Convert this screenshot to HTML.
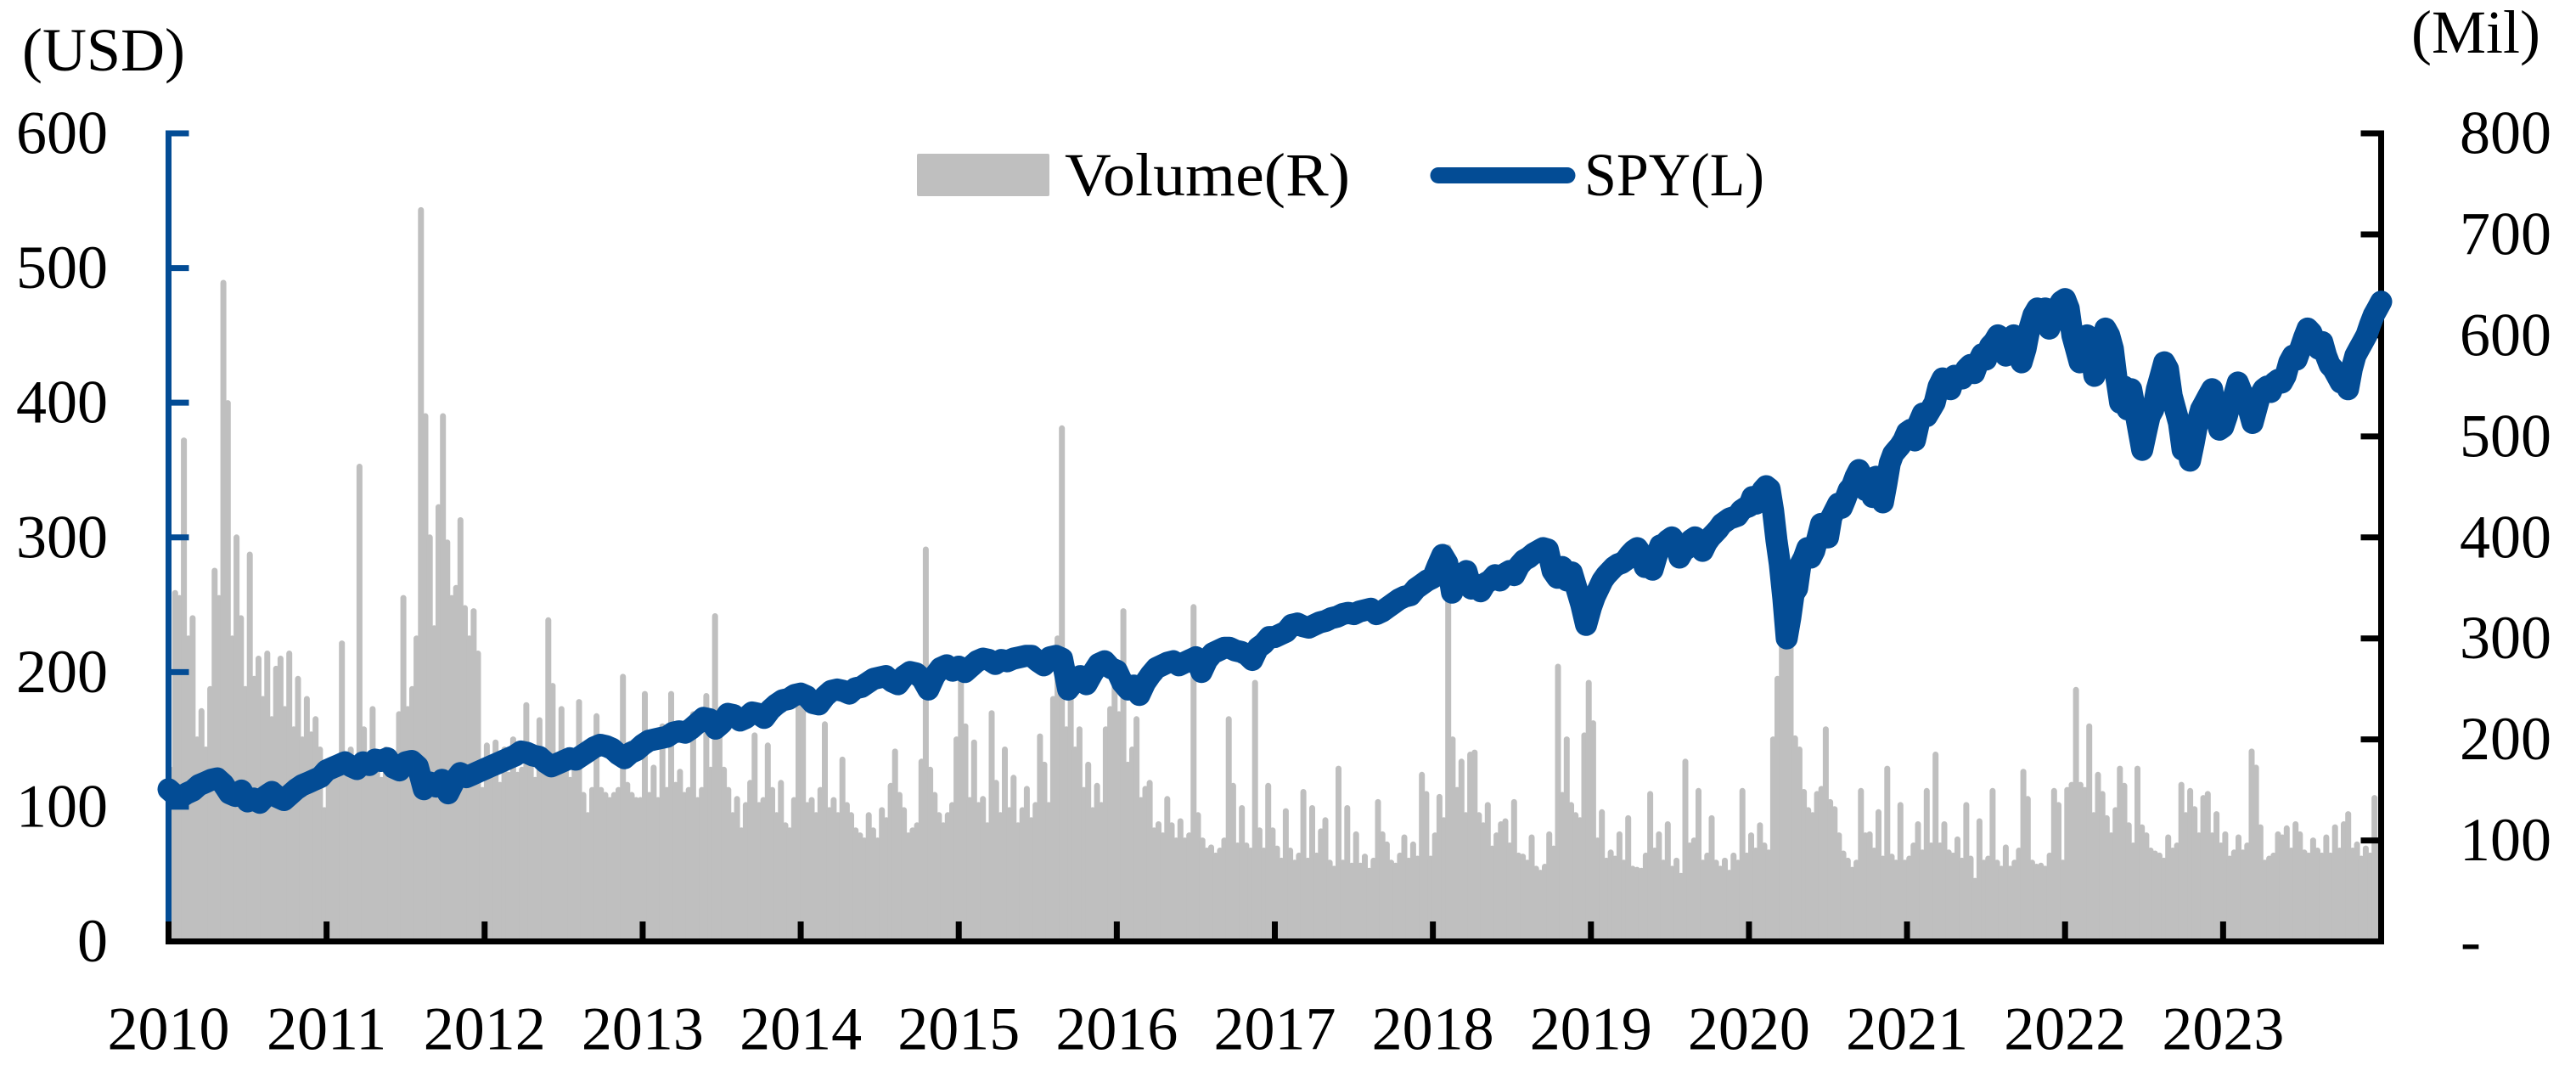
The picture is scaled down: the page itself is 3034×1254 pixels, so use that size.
<!DOCTYPE html>
<html lang="en">
<head>
<meta charset="utf-8">
<title>SPY price and volume, 2010-2023</title>
<style>
  html, body { margin: 0; padding: 0; background: #fff; }
  svg { display: block; }
  text { font-family: "Liberation Serif", serif; font-size: 72px; fill: #000; }
</style>
</head>
<body>
<svg id="chart" xmlns="http://www.w3.org/2000/svg" width="3034" height="1254" viewBox="0 0 3034 1254">
  <rect x="0" y="0" width="3034" height="1254" fill="#fff"/>
  <g id="volume-layer"></g>
  <g id="axis-layer"></g>
  <g id="line-layer"></g>
  <text x="26" y="83">(USD)</text>
  <text x="2840" y="62">(Mil)</text>
  <g>
    <rect x="1080" y="181" width="156" height="50" rx="2" fill="#BFBFBF"/>
    <text x="1254" y="230" textLength="336" lengthAdjust="spacingAndGlyphs">Volume(R)</text>
    <line x1="1694" y1="206.5" x2="1846" y2="206.5" stroke="#034C95" stroke-width="19" stroke-linecap="round"/>
    <text x="1866" y="230" textLength="212" lengthAdjust="spacingAndGlyphs">SPY(L)</text>
  </g>
</svg>
<script>
// Categories and tick labels
const years = [2010, 2011, 2012, 2013, 2014, 2015, 2016, 2017, 2018, 2019, 2020, 2021, 2022, 2023];
const leftTicks = [0, 100, 200, 300, 400, 500, 600];
const rightTicks = [0, 100, 200, 300, 400, 500, 600, 700, 800];
const rightTickLabels = ["-", "100", "200", "300", "400", "500", "600", "700", "800"];

// SPY price (USD, left axis)
const spy2010 = [113,109,107,110,112,116,118,120,121,117,110,108,112,104,106,103,108,111,107,105,109,113,116,118,120,122];
const spy2011 = [127,129,131,133,130,128,133,131,135,134,136,129,127,133,134,130,113,118,115,120,110,119,125,122,124,126];
const spy2012 = [128,130,132,134,136,138,141,140,138,137,133,130,132,134,136,135,138,141,144,146,145,143,139,136,140,142];
const spy2013 = [146,149,150,151,152,155,156,155,158,162,166,165,158,162,169,168,164,166,170,169,166,172,176,179,180,183];
const spy2014 = [184,182,177,176,182,186,187,186,184,188,189,192,195,196,197,193,191,197,200,199,195,187,197,203,205,201];
const spy2015 = [204,200,204,208,210,209,206,209,208,210,211,212,212,208,205,211,212,210,187,193,197,191,199,206,208,203];
const spy2016 = [201,192,187,190,183,192,198,203,205,207,208,205,207,209,211,200,209,214,216,218,218,216,215,213,209,218,221,226];
const spy2017 = [226,228,230,235,236,234,233,235,237,238,240,241,243,244,243,245,246,247,243,245,248,251,254,256,257,262,265,268];
const spy2018 = [270,279,287,281,259,268,272,275,262,265,260,266,268,272,268,273,275,272,279,283,285,288,290,292,291,275,270,278,268,274,262,250,235];
const spy2019 = [248,256,262,268,272,275,278,280,281,283,287,290,292,288,278,283,276,286,294,295,298,300,296,285,290,292,298,300,297,290,296,300,303,306,310,312,314,315,316,320,322];
const spy2020 = [323,330,325,330,335,338,336,320,298,280,255,225,240,258,262,280,285,292,285,290,300,310,306,300,315,320,325,322,328,335,338,345,350,345,335,340,330,345,335,326,340,355,362,365,368,372];
const spy2021 = [378,380,372,385,392,390,395,400,412,418,415,410,420,420,418,425,428,422,430,436,432,442,445,450,448,435,443,450,445,430,440,455,465,470,465,470,455,462,470,475];
const spy2022 = [477,470,450,440,430,448,450,440,420,428,440,455,450,440,418,400,412,395,410,395,380,365,378,390,395,410,420,430,425,405,395,385,365,375,357,370,385,395,400,405,410,390,380];
const spy2023 = [382,390,400,405,415,408,400,395,385,395,405,410,412,408,415,417,415,420,430,435,432,440,448,455,452,445,440,445,435,428,425,420,415,420,410,425,435,440,445,450,458,465,470,475];

// Trading volume (millions of shares, right axis)
const vol2010 = [170,345,340,496,300,320,200,228,190,250,367,340,652,533,300,400,320,250,383,260,280,240,285,220,270,280,230,285,210,260,200,240,205,220,190,130];
const vol2011 = [165,175,170,295,165,190,175,470,210,175,230,180,160,190,170,175,225,340,230,250,300,724,520,400,310,430,520,395,340,350,417,330,300,327,285,150];
const vol2012 = [194,160,197,155,190,165,200,165,170,234,175,160,219,180,318,253,180,230,170,160,170,237,145,125,150,223,150,145,140,145,150,262,155,145,140,140];
const vol2013 = [245,145,172,140,213,150,245,155,168,145,150,225,140,150,243,170,322,220,170,150,125,141,110,135,157,204,135,140,194,150,125,157,115,110,140,250];
const vol2014 = [233,135,140,125,150,215,130,140,125,180,135,125,110,105,100,125,110,100,130,120,154,188,145,130,105,110,115,178,388,170,145,125,115,125,135,200];
const vol2015 = [262,213,140,197,135,141,115,226,157,125,190,130,162,115,130,151,120,135,203,175,135,240,300,508,210,275,190,210,150,175,130,154,135,210,230,270];
const vol2016 = [225,327,175,190,220,140,151,157,110,116,105,141,115,100,119,100,105,331,125,100,90,93,85,90,100,220,154,95,132,95,90,256,110,90,154,110];
const vol2017 = [92,80,129,90,78,85,148,80,132,85,109,120,78,72,171,78,132,75,106,75,84,70,80,138,106,96,78,75,85,103,80,96,82,165,146,82];
const vol2018 = [105,143,120,390,200,150,178,125,185,187,125,115,135,92,105,116,119,95,138,85,84,78,103,72,68,74,106,92,272,145,200,135,125,120,204,256];
const vol2019 = [216,100,128,80,88,82,106,78,122,72,71,70,85,146,90,106,78,116,72,80,65,178,95,100,149,78,85,122,78,72,80,68,85,78,149,85];
const vol2020 = [105,90,115,95,88,200,260,395,350,300,201,190,148,130,125,146,151,210,138,131,105,87,80,71,78,149,105,106,90,128,82,171,84,78,135,78];
const vol2021 = [82,95,116,88,149,95,185,95,116,88,85,101,80,135,82,60,119,78,82,149,78,72,93,72,78,90,168,141,78,74,75,72,85,149,135,78];
const vol2022 = [150,155,249,155,150,213,125,165,146,122,105,130,171,154,115,95,171,113,105,90,87,85,80,103,90,95,155,125,149,131,105,142,146,105,126,95];
const vol2023 = [106,82,88,103,88,95,188,172,113,78,82,85,106,103,112,90,116,106,88,85,100,90,85,103,85,113,90,116,126,90,96,82,92,85,142,100];

const spySeries = [spy2010, spy2011, spy2012, spy2013, spy2014, spy2015, spy2016, spy2017, spy2018, spy2019, spy2020, spy2021, spy2022, spy2023];
const volumeSeries = [vol2010, vol2011, vol2012, vol2013, vol2014, vol2015, vol2016, vol2017, vol2018, vol2019, vol2020, vol2021, vol2022, vol2023];

const plotLeft = 198.5, plotRight = 2804.5, plotTop = 157, plotBottom = 1108.5;
const leftMax = 600, rightMax = 800;
const BLUE = "#034C95", GRAY = "#BFBFBF", BLACK = "#000";
const NS = "http://www.w3.org/2000/svg";

function xScale(yearFloat) {
  return plotLeft + (yearFloat - years[0]) / years.length * (plotRight - plotLeft);
}
function yLeft(v) {
  return plotBottom - v / leftMax * (plotBottom - plotTop);
}
function yRight(v) {
  return plotBottom - v / rightMax * (plotBottom - plotTop);
}
function make(tag, attrs, parent) {
  const el = document.createElementNS(NS, tag);
  for (const k in attrs) el.setAttribute(k, attrs[k]);
  parent.appendChild(el);
  return el;
}

const volumeLayer = document.getElementById("volume-layer");
const axisLayer = document.getElementById("axis-layer");
const lineLayer = document.getElementById("line-layer");

// Volume columns: narrow round-capped bars, one per value
volumeSeries.forEach(function (vals, yi) {
  vals.forEach(function (v, i) {
    const xp = xScale(years[yi] + (i + 0.5) / vals.length);
    const bar = make("line", { x1: xp.toFixed(1), x2: xp.toFixed(1), y1: plotBottom, y2: yRight(v).toFixed(1), stroke: GRAY, "stroke-width": 7, "stroke-linecap": "round" }, volumeLayer);
    
    
  });
});

// Left axis line and ticks
const leftAxis = make("line", { x1: plotLeft, x2: plotLeft, y1: plotTop - 3.5, y2: plotBottom, stroke: BLUE, "stroke-width": 7 }, axisLayer);


leftTicks.forEach(function (t) {
  if (t > 0) {
    const tick = make("line", { x1: plotLeft, x2: plotLeft + 24, y1: yLeft(t), y2: yLeft(t), stroke: BLUE, "stroke-width": 7 }, axisLayer);
    
    
  }
  const label = make("text", { x: 127, y: yLeft(t) + 23.5, "text-anchor": "end" }, axisLayer);
  label.textContent = String(t);
  
  
});

// Right axis line and ticks
const rightAxis = make("line", { x1: plotRight, x2: plotRight, y1: plotTop - 3.5, y2: plotBottom + 3.5, stroke: BLACK, "stroke-width": 7 }, axisLayer);


rightTicks.forEach(function (t, i) {
  if (t > 0) {
    const tick = make("line", { x1: plotRight, x2: plotRight - 24, y1: yRight(t), y2: yRight(t), stroke: BLACK, "stroke-width": 7 }, axisLayer);
    
    
  }
  const isDash = rightTickLabels[i] === "-";
  const label = make("text", { x: isDash ? 2898 : 3005, y: yRight(t) + 23.5, "text-anchor": isDash ? "start" : "end" }, axisLayer);
  label.textContent = rightTickLabels[i];
  
  
});

// X axis line, ticks and labels
const xAxis = make("line", { x1: plotLeft - 3.5, x2: plotRight + 3.5, y1: plotBottom, y2: plotBottom, stroke: BLACK, "stroke-width": 7 }, axisLayer);


years.forEach(function (yr) {
  const xp = xScale(yr);
  const tick = make("line", { x1: xp, x2: xp, y1: plotBottom - 23.5, y2: plotBottom, stroke: BLACK, "stroke-width": 7 }, axisLayer);
  
  
  const label = make("text", { x: xp, y: 1235.5, "text-anchor": "middle" }, axisLayer);
  label.textContent = String(yr);
  
  
});

// SPY line
const spyPts = [];
spySeries.forEach(function (vals, yi) {
  const denom = yi === spySeries.length - 1 ? vals.length - 1 : vals.length;
  vals.forEach(function (v, i) {
    spyPts.push([xScale(years[yi] + i / denom), yLeft(v)]);
  });
});
const spyD = spyPts.map(function (p, i) {
  return (i ? "L" : "M") + p[0].toFixed(1) + " " + p[1].toFixed(1);
}).join("");
const spyPath = make("path", { d: spyD, fill: "none", stroke: BLUE, "stroke-width": 26, "stroke-linejoin": "round", "stroke-linecap": "round" }, lineLayer);


</script>
</body>
</html>
